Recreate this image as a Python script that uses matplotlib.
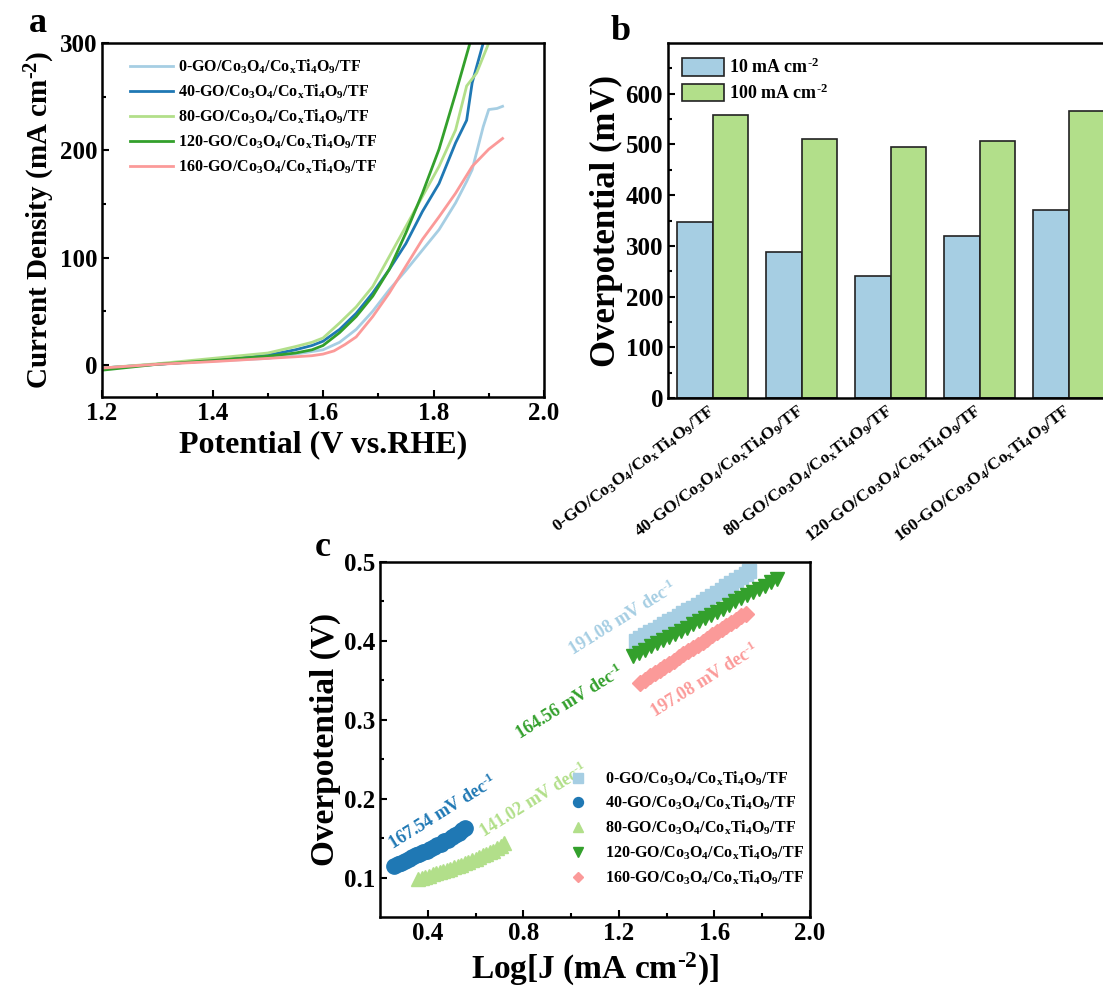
import numpy as np
import matplotlib
matplotlib.use("Agg")
import matplotlib.pyplot as plt

plt.rcParams['font.family'] = ['Liberation Serif', 'DejaVu Serif']
plt.rcParams['font.weight'] = 'bold'
plt.rcParams['mathtext.fontset'] = 'custom'
plt.rcParams['mathtext.rm'] = 'Liberation Serif:bold'
plt.rcParams['mathtext.it'] = 'Liberation Serif:bold'
plt.rcParams['mathtext.bf'] = 'Liberation Serif:bold'
plt.rcParams['axes.linewidth'] = 1.8

HY = "\u2010"  # plain hyphen in superscripts, as in the original
samples = [r"0-GO/Co$_3$O$_4$/Co$_x$Ti$_4$O$_9$/TF",
           r"40-GO/Co$_3$O$_4$/Co$_x$Ti$_4$O$_9$/TF",
           r"80-GO/Co$_3$O$_4$/Co$_x$Ti$_4$O$_9$/TF",
           r"120-GO/Co$_3$O$_4$/Co$_x$Ti$_4$O$_9$/TF",
           r"160-GO/Co$_3$O$_4$/Co$_x$Ti$_4$O$_9$/TF"]
colors = ['#a6cee3', '#1f78b4', '#b2df8a', '#33a02c', '#fb9a99']

# panel a: LSV curves
v_0 = [1.20, 1.30, 1.40, 1.50, 1.55, 1.60, 1.63, 1.66, 1.69, 1.72, 1.75, 1.78, 1.81, 1.84, 1.86, 1.87, 1.89, 1.90, 1.915, 1.925]
j_0 = [-3, 0.5, 3.5, 6, 10, 14, 21, 33, 50, 70, 88, 107, 126, 151, 171, 182, 222, 238, 239, 241]
v_40 = [1.20, 1.30, 1.40, 1.50, 1.55, 1.58, 1.60, 1.63, 1.66, 1.69, 1.72, 1.75, 1.78, 1.81, 1.84, 1.86, 1.87, 1.89]
j_40 = [-3, 0.5, 4, 9, 14, 18, 22, 33, 48, 67, 89, 113, 143, 169, 207, 228, 263, 300]
v_80 = [1.20, 1.30, 1.40, 1.50, 1.55, 1.58, 1.60, 1.63, 1.66, 1.69, 1.72, 1.75, 1.78, 1.81, 1.84, 1.86, 1.878, 1.90]
j_80 = [-3, 1, 6, 11, 17, 21, 25, 39, 54, 73, 101, 129, 157, 185, 219, 260, 272, 300]
v_120 = [1.20, 1.30, 1.40, 1.50, 1.55, 1.58, 1.60, 1.63, 1.66, 1.69, 1.72, 1.75, 1.78, 1.81, 1.84, 1.866]
j_120 = [-5, 0.5, 4, 8, 11, 14, 18, 30, 45, 64, 89, 123, 160, 201, 253, 300]
v_160 = [1.20, 1.30, 1.40, 1.50, 1.55, 1.58, 1.60, 1.62, 1.64, 1.66, 1.69, 1.72, 1.75, 1.78, 1.81, 1.84, 1.87, 1.90, 1.925]
j_160 = [-3, 0.5, 3, 6, 7.5, 8.5, 10, 13, 19, 26, 45, 67, 92, 117, 138, 160, 185, 201, 211]

# panel b: overpotentials
eta_10 = [347, 288, 240, 319, 370]
eta_100 = [558, 511, 494, 507, 566]

# panel c: Tafel data
lx_0 = [1.27, 1.29, 1.31, 1.33, 1.35, 1.37, 1.39, 1.41, 1.43, 1.45, 1.47, 1.49, 1.51,
        1.53, 1.55, 1.57, 1.59, 1.61, 1.63, 1.65, 1.67, 1.69, 1.71, 1.73, 1.745]
ly_0 = [0.400, 0.404, 0.407, 0.411, 0.414, 0.418, 0.421, 0.425, 0.428, 0.432, 0.435, 0.439, 0.442,
        0.446, 0.449, 0.453, 0.457, 0.461, 0.465, 0.469, 0.473, 0.477, 0.481, 0.485, 0.489]
lx_40 = [0.26, 0.275, 0.29, 0.305, 0.32, 0.335, 0.35, 0.365, 0.38, 0.395, 0.41,
         0.425, 0.44, 0.455, 0.47, 0.485, 0.50, 0.515, 0.53, 0.545, 0.555]
ly_40 = [0.115, 0.117, 0.119, 0.121, 0.123, 0.126, 0.128, 0.130, 0.132, 0.134, 0.136,
         0.139, 0.141, 0.143, 0.146, 0.148, 0.151, 0.154, 0.157, 0.160, 0.163]
lx_80 = [0.36, 0.375, 0.39, 0.405, 0.42, 0.435, 0.45, 0.465, 0.48, 0.495, 0.51, 0.525, 0.54,
         0.555, 0.57, 0.585, 0.60, 0.615, 0.63, 0.645, 0.66, 0.675, 0.69, 0.705, 0.72]
ly_80 = [0.098, 0.0995, 0.101, 0.1025, 0.104, 0.1055, 0.107, 0.1085, 0.110, 0.1115, 0.113, 0.1145, 0.116,
         0.118, 0.120, 0.122, 0.124, 0.126, 0.128, 0.130, 0.132, 0.134, 0.137, 0.140, 0.144]
lx_120 = [1.26, 1.285, 1.31, 1.335, 1.36, 1.385, 1.41, 1.435, 1.46, 1.485, 1.51, 1.535, 1.56,
          1.585, 1.61, 1.635, 1.66, 1.685, 1.71, 1.735, 1.76, 1.785, 1.81, 1.835, 1.86]
ly_120 = [0.381, 0.385, 0.389, 0.393, 0.397, 0.401, 0.405, 0.409, 0.413, 0.417, 0.421, 0.425, 0.429,
          0.433, 0.437, 0.441, 0.445, 0.450, 0.454, 0.458, 0.462, 0.466, 0.470, 0.475, 0.479]
lx_160 = [1.29, 1.31, 1.33, 1.35, 1.37, 1.39, 1.41, 1.43, 1.45, 1.47, 1.49, 1.51,
          1.53, 1.55, 1.57, 1.59, 1.61, 1.63, 1.65, 1.67, 1.69, 1.71, 1.73]
ly_160 = [0.347, 0.351, 0.355, 0.359, 0.363, 0.367, 0.371, 0.375, 0.379, 0.383, 0.387, 0.391,
          0.395, 0.399, 0.403, 0.407, 0.411, 0.415, 0.419, 0.423, 0.427, 0.431, 0.434]
slopes = ["191.08", "167.54", "141.02", "164.56", "197.08"]


def style_ax(ax):
    ax.tick_params(direction='in', which='both', top=False, right=False, labelsize=18, width=1.5)
    ax.tick_params(which='major', length=5)
    ax.tick_params(which='minor', length=3)
    for lab in ax.get_xticklabels() + ax.get_yticklabels():
        lab.set_fontweight('bold')


fig = plt.figure(figsize=(11.03, 9.96), dpi=100)

# ---- a ----
ax1 = fig.add_axes([0.0925, 0.6014, 0.4007, 0.3554])
curves = [(v_0, j_0), (v_40, j_40), (v_80, j_80), (v_120, j_120), (v_160, j_160)]
for (v, j), c, lab in zip(curves, colors, samples):
    ax1.plot(v, j, color=c, lw=2, label=lab)
ax1.set_xlim(1.2, 2.0)
ax1.set_ylim(-30, 300)
ax1.set_xticks([1.2, 1.4, 1.6, 1.8, 2.0])
ax1.set_xticks(np.arange(1.3, 2.0, 0.2), minor=True)
ax1.set_yticks([0, 100, 200, 300])
ax1.set_yticks([50, 150, 250], minor=True)
style_ax(ax1)
ax1.set_xlabel("Potential (V vs.RHE)", fontsize=23, fontweight='bold')
ax1.set_ylabel("Current Density (mA cm$^{" + HY + "2}$)", fontsize=21, fontweight='bold', labelpad=2)
ax1.legend(loc='upper left', frameon=False, fontsize=11.5, handlelength=2.7,
           handletextpad=0.3, labelspacing=0.42, bbox_to_anchor=(0.03, 1.0))
fig.text(0.034, 0.976, "a", fontsize=26, fontweight='bold', ha='center', va='center')

# ---- b ----
ax2 = fig.add_axes([0.6056, 0.6004, 0.3989, 0.3564])
x = np.arange(len(samples))
w = 0.4
ax2.bar(x - w / 2, eta_10, w, color='#a6cee3', edgecolor='#222222', lw=1.2, label="10 mA cm$^{" + HY + "2}$")
ax2.bar(x + w / 2, eta_100, w, color='#b2df8a', edgecolor='#222222', lw=1.2, label="100 mA cm$^{" + HY + "2}$")
ax2.set_xlim(-0.5, 4.44)
ax2.set_ylim(0, 700)
ax2.set_yticks(range(0, 700, 100))
ax2.set_yticks(range(50, 700, 100), minor=True)
ax2.set_xticks(x)
ax2.set_xticklabels(samples)
style_ax(ax2)
ax2.tick_params(axis='x', which='both', length=0, pad=8)
for lab in ax2.get_xticklabels():
    lab.set_rotation(37)
    lab.set_rotation_mode('anchor')
    lab.set_ha('right')
    lab.set_va('center')
    lab.set_fontsize(12.5)
ax2.set_ylabel("Overpotential (mV)", fontsize=25, fontweight='bold', labelpad=2)
ax2.legend(loc='upper left', frameon=False, fontsize=13, handlelength=2.3, handleheight=1.15,
           handletextpad=0.3, labelspacing=0.35, borderaxespad=0.4)
fig.text(0.563, 0.968, "b", fontsize=26, fontweight='bold', ha='center', va='center')

# ---- c ----
ax3 = fig.add_axes([0.3445, 0.0793, 0.3899, 0.3564])
tafel = [(lx_0, ly_0, 's', 10), (lx_40, ly_40, 'o', 11), (lx_80, ly_80, '^', 10),
         (lx_120, ly_120, 'v', 10), (lx_160, ly_160, 'D', 8)]
for (lx, ly, m, ms), c, lab in zip(tafel, colors, samples):
    ax3.plot(lx, ly, ls='none', marker=m, ms=ms, color=c, mec=c, label=lab)
ax3.set_xlim(0.2, 2.0)
ax3.set_ylim(0.05, 0.5)
ax3.set_xticks([0.4, 0.8, 1.2, 1.6, 2.0])
ax3.set_xticks([0.6, 1.0, 1.4, 1.8], minor=True)
ax3.set_yticks([0.1, 0.2, 0.3, 0.4, 0.5])
ax3.set_yticks([0.15, 0.25, 0.35, 0.45], minor=True)
style_ax(ax3)
ax3.set_xlabel("Log[J (mA cm$^{" + HY + "2}$)]", fontsize=24, fontweight='bold')
ax3.set_ylabel("Overpotential (V)", fontsize=24, fontweight='bold', labelpad=2)
ax3.legend(loc='lower right', frameon=False, fontsize=11.5, markerscale=0.65,
           handletextpad=0.7, labelspacing=0.4, bbox_to_anchor=(1.02, 0.045))
ann = [(1.217, 0.428), (0.464, 0.183), (0.845, 0.198), (0.995, 0.3225), (1.56, 0.350)]
for (ax_, ay_), s, c in zip(ann, slopes, colors):
    ax3.text(ax_, ay_, s + " mV dec$^{" + HY + "1}$", color=c, fontsize=13, fontweight='bold',
             rotation=32, ha='center', va='center', rotation_mode='anchor')
fig.text(0.293, 0.45, "c", fontsize=26, fontweight='bold', ha='center', va='center')

fig.savefig("out.png", dpi=100)
